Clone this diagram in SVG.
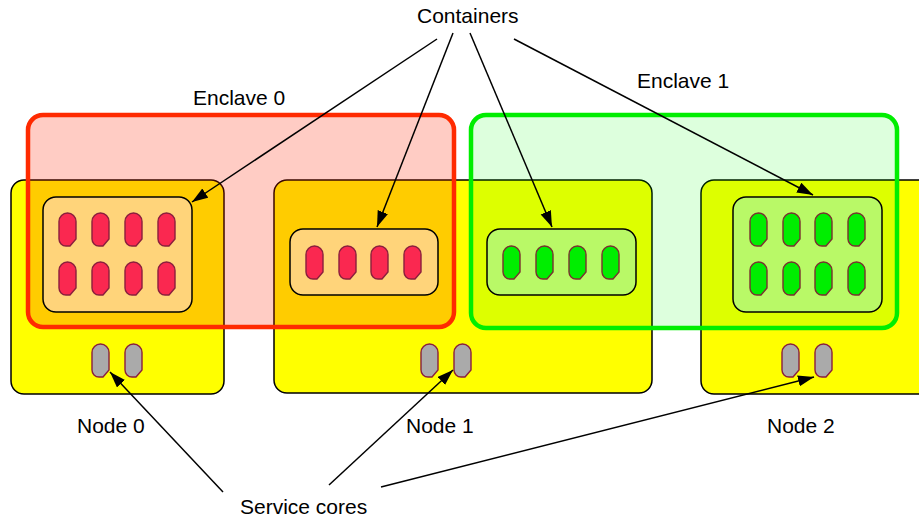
<svg xmlns="http://www.w3.org/2000/svg" xmlns:xlink="http://www.w3.org/1999/xlink" width="919" height="520" viewBox="0 0 919 520">
<style>
.node{fill:#ffff00;stroke:#000;stroke-width:1.5}
.enc0{fill:rgba(255,34,0,0.23);stroke:#ff2a00;stroke-width:4.5}
.enc1{fill:rgba(0,255,0,0.135);stroke:#00ee00;stroke-width:4.5}
.cont0{fill:#ffd47a;stroke:#000;stroke-width:1.5}
.cont1{fill:#b9f967;stroke:#000;stroke-width:1.5}
.red{fill:#fa2850;stroke:#8a1f3d;stroke-width:1.4}
.grn{fill:#00ee00;stroke:#7a3030;stroke-width:1.4}
.gry{fill:#aaaaaa;stroke:#8a1f3d;stroke-width:1.4}
.lbl{font-family:"Liberation Sans",Arial,sans-serif;font-size:21px;fill:#000}
.arr{stroke:#000;stroke-width:1.5;fill:none;marker-end:url(#ah)}
</style>
<defs>
<marker id="ah" markerUnits="userSpaceOnUse" markerWidth="17" markerHeight="12" refX="16" refY="5.5" orient="auto">
<path d="M0,0 L16,5.5 L0,11 Z" fill="#000"/>
</marker>
<path id="core" d="M0,8.5 A8.5,8.5 0 0 1 17,8.5 V26 L11,33 H7 A7,7 0 0 1 0,26 Z"/>
</defs>
<rect width="919" height="520" fill="#fff"/>

<g id="node0">
<rect class="node" x="11" y="180" width="213" height="214" rx="13"/>
<use href="#core" class="gry" x="92" y="344"/>
<use href="#core" class="gry" x="125" y="344"/>
<text class="lbl" x="77" y="433">Node 0</text>
</g>
<g id="node1">
<rect class="node" x="274" y="180" width="378" height="213" rx="13"/>
<use href="#core" class="gry" x="421" y="344"/>
<use href="#core" class="gry" x="454" y="344"/>
<text class="lbl" x="406" y="433">Node 1</text>
</g>
<g id="node2">
<rect class="node" x="701" y="180" width="240" height="214" rx="13"/>
<use href="#core" class="gry" x="782" y="344"/>
<use href="#core" class="gry" x="815" y="344"/>
<text class="lbl" x="767" y="433">Node 2</text>
</g>

<g id="enclave0">
<rect class="enc0" x="28" y="115" width="426" height="212" rx="15"/>
<text class="lbl" x="193" y="105">Enclave 0</text>
</g>
<g id="enclave1">
<rect class="enc1" x="471" y="115" width="426" height="213" rx="15"/>
<text class="lbl" x="637" y="88">Enclave 1</text>
</g>

<g id="container0">
<rect class="cont0" x="43" y="197" width="149" height="115" rx="13"/>
<use href="#core" class="red" x="59" y="213"/>
<use href="#core" class="red" x="92" y="213"/>
<use href="#core" class="red" x="125" y="213"/>
<use href="#core" class="red" x="158" y="213"/>
<use href="#core" class="red" x="59" y="262"/>
<use href="#core" class="red" x="92" y="262"/>
<use href="#core" class="red" x="125" y="262"/>
<use href="#core" class="red" x="158" y="262"/>
</g>
<g id="container1">
<rect class="cont0" x="290" y="229" width="148" height="66" rx="13"/>
<use href="#core" class="red" x="306" y="246"/>
<use href="#core" class="red" x="339" y="246"/>
<use href="#core" class="red" x="371" y="246"/>
<use href="#core" class="red" x="404" y="246"/>
</g>
<g id="container2">
<rect class="cont1" x="487" y="229" width="149" height="66" rx="13"/>
<use href="#core" class="grn" x="503" y="246"/>
<use href="#core" class="grn" x="536" y="246"/>
<use href="#core" class="grn" x="569" y="246"/>
<use href="#core" class="grn" x="602" y="246"/>
</g>
<g id="container3">
<rect class="cont1" x="733" y="197" width="149" height="115" rx="13"/>
<use href="#core" class="grn" x="750" y="213"/>
<use href="#core" class="grn" x="783" y="213"/>
<use href="#core" class="grn" x="815" y="213"/>
<use href="#core" class="grn" x="848" y="213"/>
<use href="#core" class="grn" x="750" y="262"/>
<use href="#core" class="grn" x="783" y="262"/>
<use href="#core" class="grn" x="815" y="262"/>
<use href="#core" class="grn" x="848" y="262"/>
</g>

<g id="containers-label">
<text class="lbl" x="417" y="23">Containers</text>
</g>
<g id="service-label">
<text class="lbl" x="240" y="514">Service cores</text>
</g>

<g id="connectors">
<line class="arr" x1="437" y1="39" x2="192" y2="202"/>
<line class="arr" x1="453" y1="33" x2="377" y2="227"/>
<line class="arr" x1="470" y1="33" x2="552" y2="227"/>
<line class="arr" x1="514" y1="39" x2="813" y2="195"/>
<line class="arr" x1="223" y1="492" x2="110" y2="372"/>
<line class="arr" x1="329" y1="485" x2="453" y2="370"/>
<line class="arr" x1="381" y1="487" x2="814" y2="377"/>
</g>
</svg>
